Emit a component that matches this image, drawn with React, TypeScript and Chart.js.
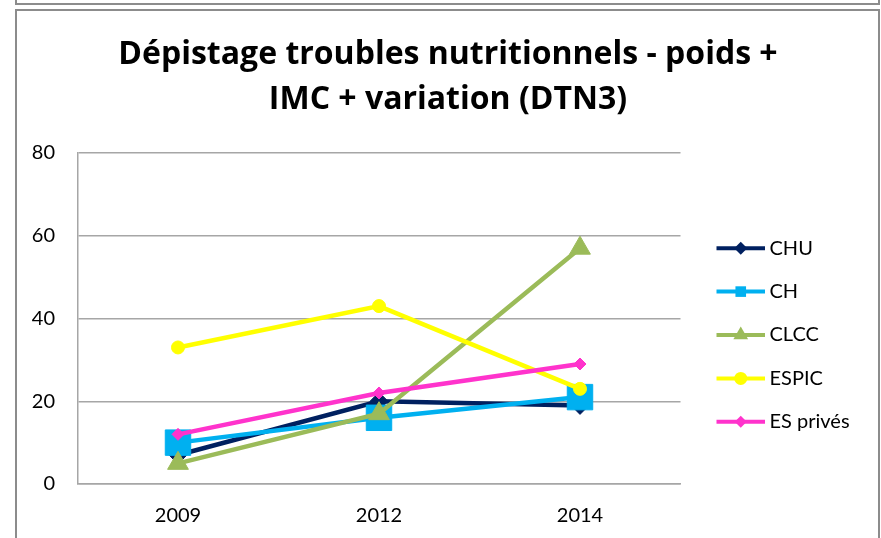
import React, { useEffect, useRef } from 'react';
import { Chart, registerables } from 'chart.js';

Chart.register(...registerables);

const years = ['2009', '2012', '2014'];
const seriesNames = ['CHU', 'CH', 'CLCC', 'ESPIC', 'ES privés'];
const chu = [7, 20, 19];
const ch = [10, 16, 21];
const clcc = [5, 17, 57];
const espic = [33, 43, 23];
const esPrives = [12, 22, 29];
const yMin = 0;
const yMax = 80;
const yStep = 20;
const titleLines = ['Dépistage troubles nutritionnels - poids +', 'IMC + variation (DTN3)'];

const seriesValues = [chu, ch, clcc, espic, esPrives];

const styles = [
  { color: '#002060', shape: 'rectRot', r: 9, lr: 6.5 },
  { color: '#00B0F0', shape: 'rect', r: 18, lr: 7.5 },
  { color: '#9BBB59', shape: 'triangle', r: 12, lr: 8.5 },
  { color: '#FFFF00', shape: 'circle', r: 6.5, lr: 6.5 },
  { color: '#FF33CC', shape: 'rectRot', r: 6, lr: 6 },
];

const FONT = 'Lato';
const TITLE_FONT = '"Open Sans"';
const gridColor = '#A6A6A6';

function drawMarker(ctx: CanvasRenderingContext2D, shape: string, x: number, y: number, r: number, color: string) {
  ctx.save();
  ctx.fillStyle = color;
  ctx.beginPath();
  if (shape === 'circle') {
    ctx.arc(x, y, r, 0, Math.PI * 2);
  } else if (shape === 'rect') {
    const s = r * Math.SQRT1_2;
    ctx.rect(x - s, y - s, 2 * s, 2 * s);
  } else if (shape === 'rectRot') {
    ctx.moveTo(x - r, y);
    ctx.lineTo(x, y - r);
    ctx.lineTo(x + r, y);
    ctx.lineTo(x, y + r);
  } else if (shape === 'triangle') {
    let a = 0;
    ctx.moveTo(x + Math.sin(a) * r, y - Math.cos(a) * r);
    a += (2 * Math.PI) / 3;
    ctx.lineTo(x + Math.sin(a) * r, y - Math.cos(a) * r);
    a += (2 * Math.PI) / 3;
    ctx.lineTo(x + Math.sin(a) * r, y - Math.cos(a) * r);
  }
  ctx.closePath();
  ctx.fill();
  ctx.restore();
}

const customLegend = {
  id: 'customLegend',
  afterDraw(chart: any) {
    const ctx: CanvasRenderingContext2D = chart.ctx;
    const area = chart.chartArea;
    const n = chart.data.datasets.length;
    const spacing = 43.4;
    const cy = (area.top + area.bottom) / 2 + 16.5;
    const x0 = area.right + 36;
    const x1 = area.right + 84.5;
    chart.data.datasets.forEach((ds: any, i: number) => {
      const y = cy + (i - (n - 1) / 2) * spacing;
      const st = styles[i];
      ctx.save();
      ctx.strokeStyle = st.color;
      ctx.lineWidth = 4;
      ctx.beginPath();
      ctx.moveTo(x0, y);
      ctx.lineTo(x1, y);
      ctx.stroke();
      ctx.restore();
      drawMarker(ctx, st.shape, (x0 + x1) / 2, y, st.lr, st.color);
      ctx.save();
      ctx.fillStyle = '#000';
      ctx.font = `20px ${FONT}`;
      ctx.textBaseline = 'middle';
      ctx.textAlign = 'left';
      ctx.fillText(ds.label, x1 + 4.5, y);
      ctx.restore();
    });
  },
};

export default function App() {
  const ref = useRef<HTMLCanvasElement>(null);

  useEffect(() => {
    if (!ref.current) return;
    const datasets = seriesNames.map((name, i) => ({
      label: name,
      data: seriesValues[i],
      borderColor: styles[i].color,
      backgroundColor: styles[i].color,
      borderWidth: 4.5,
      pointStyle: styles[i].shape,
      pointRadius: styles[i].r,
      pointBorderWidth: 1,
      pointBackgroundColor: styles[i].color,
      pointBorderColor: styles[i].color,
      tension: 0,
      order: seriesNames.length - i,
      yAxisID: 'y',
      xAxisID: 'x',
    }));
    const tickFont = { family: FONT, size: 20 };
    const chart = new Chart(ref.current, {
      type: 'line',
      data: { labels: years, datasets },
      plugins: [customLegend],
      options: {
        animation: false,
        responsive: false,
        maintainAspectRatio: false,
        layout: { padding: { left: 16, right: 1, top: 0, bottom: 0 } },
        plugins: {
          legend: { display: false },
          tooltip: { enabled: false },
          title: {
            display: true,
            text: titleLines,
            color: '#000',
            font: { family: TITLE_FONT, size: 32, weight: 'bold', lineHeight: '45px' },
            padding: { top: 32.5, bottom: 30.5 },
          },
        },
        scales: {
          x: {
            type: 'category',
            offset: true,
            grid: { display: false, drawTicks: false },
            border: { display: true, color: gridColor, width: 1.5 },
            ticks: { font: tickFont, color: '#000', padding: 20 },
            afterFit: (s: any) => { s.height = 54; },
          },
          y: {
            type: 'linear',
            min: yMin,
            max: yMax,
            ticks: { stepSize: yStep, font: tickFont, color: '#000', padding: 22.5 },
            grid: { color: gridColor, lineWidth: 1.5, drawTicks: false },
            border: { display: true, color: gridColor, width: 1.5 },
            afterFit: (s: any) => { s.width = 61.5; },
          },
          yR: {
            type: 'linear',
            position: 'right',
            display: true,
            grid: { display: false, drawTicks: false },
            border: { display: false },
            ticks: { display: false },
            afterFit: (s: any) => { s.width = 199.5; },
          },
        },
      } as any,
    });
    return () => chart.destroy();
  }, []);

  return (
    <div style={{ position: 'fixed', left: 0, top: 0, width: 881, height: 538, overflow: 'hidden', background: '#fff' }}>
      <div style={{ position: 'absolute', left: 15, top: -20, width: 865, height: 25, boxSizing: 'border-box', border: '2px solid #8C8C8C' }} />
      <div style={{ position: 'absolute', left: 15, top: 9, width: 865, height: 600, boxSizing: 'border-box', border: '2px solid #8C8C8C' }} />
      <canvas ref={ref} width={881} height={538} style={{ position: 'absolute', left: 0, top: 0, width: 881, height: 538 }} />
    </div>
  );
}
